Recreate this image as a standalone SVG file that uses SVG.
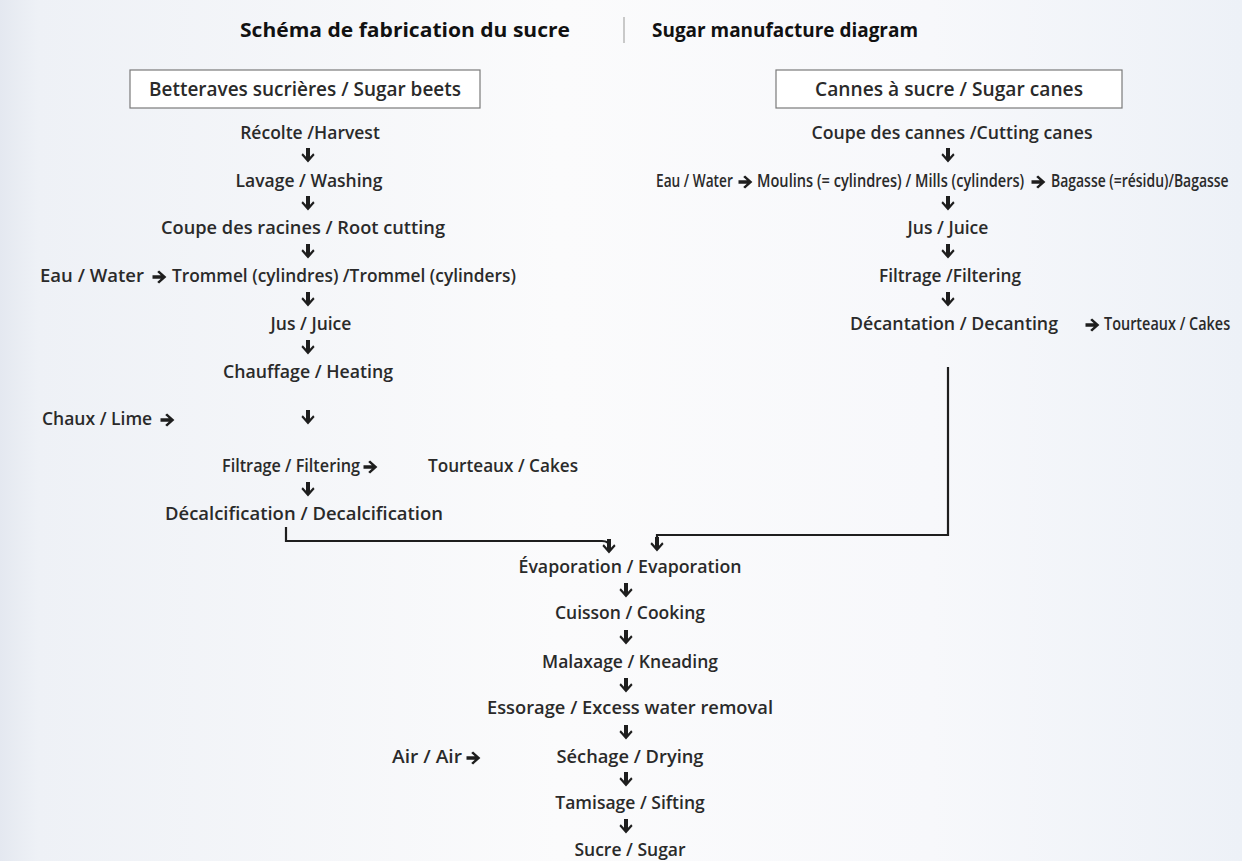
<svg xmlns="http://www.w3.org/2000/svg" xmlns:xlink="http://www.w3.org/1999/xlink" width="1242" height="861" viewBox="0 0 1242 861">
<defs>
<linearGradient id="bg" x1="0" y1="0" x2="1" y2="0">
<stop offset="0" stop-color="#e4e8f0"/>
<stop offset="0.03" stop-color="#eef1f6"/>
<stop offset="0.45" stop-color="#fbfbfc"/>
<stop offset="0.75" stop-color="#f7f8fb"/>
<stop offset="1" stop-color="#edf1f7"/>
</linearGradient>
<path id="da" d="M-2,-8 H2 V0.8 L5.2,-2.8 L6.6,-0.9 L0,6.6 L-6.6,-0.9 L-5.2,-2.8 L-2,0.8 Z" fill="#1e1e1e"/>
<path id="ra" d="M-7.5,-1.8 V1.8 H0.8 L-2.8,5 L-0.9,6.4 L6.4,0 L-0.9,-6.4 L-2.8,-5 L0.8,-1.8 Z" fill="#1e1e1e"/>
</defs>
<style>
text{font-family:"Open Sans","Noto Sans","Liberation Sans",sans-serif;font-weight:600;font-size:17.5px;fill:#2a2a2a}
.title{font-weight:700;font-size:20px;fill:#111}
.box{fill:#ffffff;stroke:#7a7a7a;stroke-width:1.2}
.bt{font-size:19px}
.c{text-anchor:middle}
.line{fill:none;stroke:#1e1e1e;stroke-width:2.2}
</style>
<rect x="0" y="0" width="1242" height="861" fill="url(#bg)"/>

<g id="title">
<text class="title" x="240" y="37" textLength="330" lengthAdjust="spacingAndGlyphs">Schéma de fabrication du sucre</text>
<line x1="624" y1="17" x2="624" y2="43" stroke="#b8b8b8" stroke-width="1.5"/>
<text class="title" x="652" y="37" textLength="266" lengthAdjust="spacingAndGlyphs">Sugar manufacture diagram</text>
</g>

<g id="n-beets">
<rect class="box" x="130" y="70" width="350" height="38"/>
<text class="c bt" x="305" y="96" textLength="312" lengthAdjust="spacingAndGlyphs">Betteraves sucrières / Sugar beets</text>
</g>
<g id="n-canes">
<rect class="box" x="776" y="70" width="346" height="38"/>
<text class="c bt" x="949" y="96" textLength="268" lengthAdjust="spacingAndGlyphs">Cannes à sucre / Sugar canes</text>
</g>

<!-- Beet column -->
<g id="n-recolte"><text class="c" x="310" y="139">Récolte /Harvest</text></g>
<g id="n-lavage"><text class="c" x="309" y="187">Lavage / Washing</text></g>
<g id="n-coupe-racines"><text class="c" x="303" y="234" textLength="284" lengthAdjust="spacingAndGlyphs">Coupe des racines / Root cutting</text></g>
<g id="n-eau1"><text x="40" y="282" textLength="104" lengthAdjust="spacingAndGlyphs">Eau / Water</text></g>
<g id="n-trommel"><text x="172" y="282" textLength="344" lengthAdjust="spacingAndGlyphs">Trommel (cylindres) /Trommel (cylinders)</text></g>
<g id="n-jus1"><text class="c" x="311" y="330">Jus / Juice</text></g>
<g id="n-chauffage"><text class="c" x="308" y="378" textLength="170" lengthAdjust="spacingAndGlyphs">Chauffage / Heating</text></g>
<g id="n-chaux"><text x="42" y="425">Chaux / Lime</text></g>
<g id="n-filtrage1"><text x="222" y="472" textLength="138" lengthAdjust="spacingAndGlyphs">Filtrage / Filtering</text></g>
<g id="n-tourteaux1"><text x="428" y="472" textLength="150" lengthAdjust="spacingAndGlyphs">Tourteaux / Cakes</text></g>
<g id="n-decalc"><text class="c" x="304" y="520" textLength="278" lengthAdjust="spacingAndGlyphs">Décalcification / Decalcification</text></g>

<!-- Cane column -->
<g id="n-coupe-cannes"><text class="c" x="952" y="139" textLength="281" lengthAdjust="spacingAndGlyphs">Coupe des cannes /Cutting canes</text></g>
<g id="n-eau2"><text transform="translate(656,187) scale(0.8,1)" x="0" y="0" textLength="96" lengthAdjust="spacingAndGlyphs">Eau / Water</text></g>
<g id="n-moulins"><text transform="translate(757,187) scale(0.8,1)" x="0" y="0" textLength="334" lengthAdjust="spacingAndGlyphs">Moulins (= cylindres) / Mills (cylinders)</text></g>
<g id="n-bagasse"><text transform="translate(1051,187) scale(0.8,1)" x="0" y="0" textLength="222" lengthAdjust="spacingAndGlyphs">Bagasse (=résidu)/Bagasse</text></g>
<g id="n-jus2"><text class="c" x="948" y="234">Jus / Juice</text></g>
<g id="n-filtrage2"><text class="c" x="950" y="282" textLength="142" lengthAdjust="spacingAndGlyphs">Filtrage /Filtering</text></g>
<g id="n-decant"><text x="850" y="330" textLength="208" lengthAdjust="spacingAndGlyphs">Décantation / Decanting</text></g>
<g id="n-tourteaux2"><text transform="translate(1104,330) scale(0.83,1)" x="0" y="0" textLength="152" lengthAdjust="spacingAndGlyphs">Tourteaux / Cakes</text></g>

<!-- Common column -->
<g id="n-evap"><text class="c" x="630" y="573" textLength="223" lengthAdjust="spacingAndGlyphs">Évaporation / Evaporation</text></g>
<g id="n-cuisson"><text class="c" x="630" y="619">Cuisson / Cooking</text></g>
<g id="n-malaxage"><text class="c" x="630" y="668">Malaxage / Kneading</text></g>
<g id="n-essorage"><text class="c" x="630" y="714" textLength="286" lengthAdjust="spacingAndGlyphs">Essorage / Excess water removal</text></g>
<g id="n-air"><text x="392" y="763" textLength="70" lengthAdjust="spacingAndGlyphs">Air / Air</text></g>
<g id="n-sechage"><text class="c" x="630" y="763" textLength="147" lengthAdjust="spacingAndGlyphs">Séchage / Drying</text></g>
<g id="n-tamisage"><text class="c" x="630" y="809">Tamisage / Sifting</text></g>
<g id="n-sucre"><text class="c" x="630" y="856">Sucre / Sugar</text></g>

<g id="connectors">
<use href="#da" x="308" y="156"/>
<use href="#da" x="308" y="204"/>
<use href="#da" x="308" y="252"/>
<use href="#ra" x="160" y="277"/>
<use href="#da" x="308" y="300"/>
<use href="#da" x="308" y="348"/>
<use href="#ra" x="168" y="420"/>
<use href="#da" x="308" y="418"/>
<use href="#ra" x="371" y="467"/>
<use href="#da" x="308" y="490"/>
<path class="line" d="M286,527 V541 H602 Q609,541 609,546"/>
<use href="#da" x="609" y="547"/>

<use href="#da" x="948" y="156"/>
<use href="#ra" x="746" y="182"/>
<use href="#ra" x="1039" y="182"/>
<use href="#da" x="948" y="204"/>
<use href="#da" x="948" y="252"/>
<use href="#da" x="948" y="300"/>
<use href="#ra" x="1093" y="325"/>
<path class="line" d="M948,367 V535 H657 V541"/>
<use href="#da" x="657" y="545"/>

<use href="#da" x="626" y="591"/>
<use href="#da" x="626" y="638"/>
<use href="#da" x="626" y="686"/>
<use href="#da" x="626" y="733"/>
<use href="#ra" x="474" y="758"/>
<use href="#da" x="626" y="780"/>
<use href="#da" x="626" y="827"/>
</g>
</svg>
